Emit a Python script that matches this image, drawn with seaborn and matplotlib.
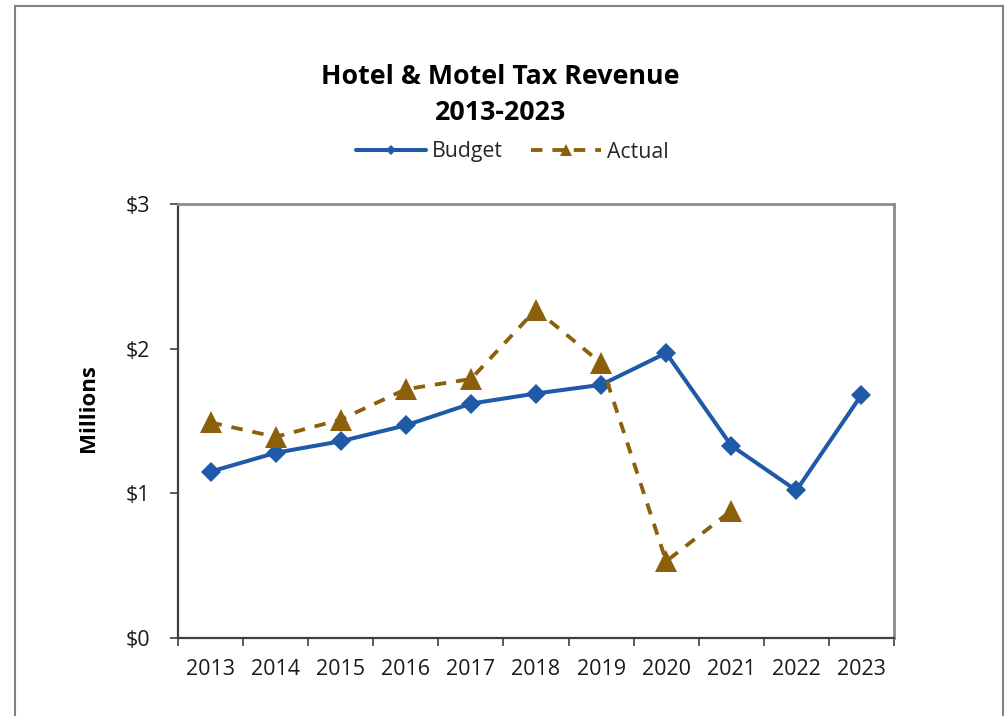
import numpy as np
import pandas as pd
import matplotlib
matplotlib.use("Agg")
import matplotlib.pyplot as plt
import seaborn as sns
from matplotlib.patches import Rectangle
from matplotlib.ticker import FixedLocator, FuncFormatter

# Data (millions of dollars)
years = ['2013', '2014', '2015', '2016', '2017', '2018', '2019', '2020', '2021', '2022', '2023']
budget = [1.15, 1.28, 1.36, 1.47, 1.62, 1.69, 1.75, 1.97, 1.33, 1.02, 1.68]
actual = [1.49, 1.39, 1.51, 1.72, 1.79, 2.27, 1.90, 0.53, 0.88, np.nan, np.nan]
y_ticks = [0, 1, 2, 3]

blue = '#1F5AA8'
brown = '#8C5F0A'

sns.set_theme(style="white")
plt.rcParams['font.family'] = ['Open Sans', 'DejaVu Sans']

df = pd.DataFrame({"Year": years, "Budget": budget, "Actual": actual})

fig = plt.figure(figsize=(10.05, 7.16), dpi=100)
ax = fig.add_axes([178 / 1005, 1 - 638 / 716, 716 / 1005, 434 / 716])

sns.lineplot(data=df, x="Year", y="Budget", ax=ax, color=blue, lw=2.9,
             marker='D', markersize=10, markeredgewidth=0, label="Budget")
sns.lineplot(data=df, x="Year", y="Actual", ax=ax, color=brown, lw=2.75,
             marker='^', markersize=16, markeredgewidth=0, label="Actual")
ax.lines[1].set_dashes((3, 2.6))

# axes limits / ticks (category boundaries get the tick marks)
ax.set_xlim(-0.5, len(years) - 0.5)
ax.set_ylim(0, 3)
ax.xaxis.set_major_locator(FixedLocator(np.arange(-0.5, len(years))))
ax.xaxis.set_major_formatter(FuncFormatter(lambda v, p: ""))
ax.set_xticks(np.arange(len(years)), years, minor=True)
ax.tick_params(axis='x', which='major', direction='out', length=6, width=1.2,
               color='#404040', bottom=True)
ax.tick_params(axis='x', which='minor', length=0, pad=15, labelsize=15.5, labelcolor='#1a1a1a')
ax.set_yticks(y_ticks, [f"${t}" for t in y_ticks])
ax.tick_params(axis='y', direction='out', length=6, width=1.2, color='#404040',
               left=True, labelsize=15.5, labelcolor='#1a1a1a', pad=14)

for side in ['left', 'bottom']:
    ax.spines[side].set_color('#404040')
    ax.spines[side].set_linewidth(1.6)
for side in ['top', 'right']:
    ax.spines[side].set_color('#8c8c8c')
    ax.spines[side].set_linewidth(2)

ax.set_xlabel("")
ax.set_ylabel("Millions", fontsize=16, fontweight='bold', color='black')
ax.yaxis.set_label_coords(-0.110, 0.53)

ax.get_legend().remove()
handles, labels = ax.get_legend_handles_labels()
fig.legend(handles, labels, loc='center', bbox_to_anchor=(0.510, 1 - 152 / 716),
           ncol=2, frameon=False, fontsize=15.3, handlelength=3.3,
           markerscale=0.55, columnspacing=1.3, handletextpad=0.3)

fig.text(0.498, 1 - 77 / 716, "Hotel & Motel Tax Revenue", ha='center', va='center',
         fontsize=19.3, fontweight='bold', color='black')
fig.text(0.498, 1 - 113 / 716, "2013-2023", ha='center', va='center',
         fontsize=19.3, fontweight='bold', color='black')

# outer chart frame
fig.patches.append(Rectangle((15 / 1005, -0.05), (1003 - 15) / 1005, 1.05 - 6 / 716,
                             transform=fig.transFigure, fill=False,
                             edgecolor='#808080', lw=1.5))

fig.savefig("out.png", dpi=100)
